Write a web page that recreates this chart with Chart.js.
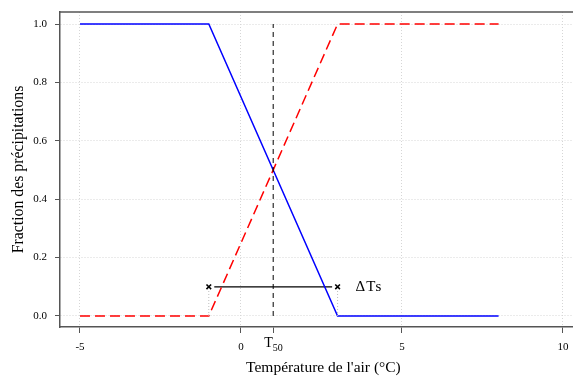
<!DOCTYPE html>
<html>
<head>
<meta charset="utf-8">
<script src="https://cdn.jsdelivr.net/npm/chart.js@4/dist/chart.umd.min.js"></script>
<style>
  html, body { margin: 0; padding: 0; background: #ffffff; }
  canvas { display: block; }
</style>
</head>
<body>
<canvas id="c" width="573" height="378"></canvas>
<script>
// ---- data ----
const xTickValues = [-5, 0, 1, 5, 10];
const yTickValues = [0, 0.2, 0.4, 0.6, 0.8, 1.0];
const tempX = [-5, -1, 3, 8];
const snowFrac = [1, 1, 0, 0];   // blue solid
const rainFrac = [0, 0, 1, 1];   // red dashed
const t50 = 1;
const tLow = -1;
const tHigh = 3;
const deltaLevel = 0.1;
const deltaBarX = [-0.83, 2.83];
const deltaLabel = 'ΔTs';
const deltaLabelX = 3.56;
const xTitle = "Température de l'air (°C)";
const yTitle = 'Fraction des précipitations';
const xTitleCenterValue = 2.56;

const SERIF = "'Liberation Serif', 'DejaVu Serif', serif";
const AXIS = '#555555';
const GRID = '#d6d6d6';

const toPts = (xs, ys) => xs.map((x, i) => ({ x: x, y: ys[i] }));

const annotPlugin = {
  id: 'annot',
  afterDraw(chart) {
    const { ctx, chartArea, scales } = chart;
    const xs = scales.x, ys = scales.y;
    ctx.save();
    // top frame line
    ctx.strokeStyle = AXIS;
    ctx.lineWidth = 1.5;
    ctx.beginPath();
    ctx.moveTo(chartArea.left - 0.75, chartArea.top);
    ctx.lineTo(chartArea.right, chartArea.top);
    ctx.stroke();
    // delta label
    ctx.fillStyle = '#000000';
    ctx.font = '15px ' + SERIF;
    ctx.textAlign = 'left';
    ctx.textBaseline = 'middle';
    try { ctx.letterSpacing = '1px'; } catch (e) {}
    ctx.fillText(deltaLabel, xs.getPixelForValue(deltaLabelX), ys.getPixelForValue(deltaLevel));
    try { ctx.letterSpacing = '0px'; } catch (e) {}
    // T50 label under axis
    const px = xs.getPixelForValue(t50);
    ctx.textBaseline = 'alphabetic';
    ctx.font = '14px ' + SERIF;
    ctx.fillText('T', px - 9, 347);
    ctx.font = '10px ' + SERIF;
    ctx.fillText('50', px - 0.5, 351);
    // x axis title (centred on the full plot region)
    ctx.font = '15.5px ' + SERIF;
    ctx.textAlign = 'center';
    ctx.textBaseline = 'middle';
    ctx.fillText(xTitle, xs.getPixelForValue(xTitleCenterValue), 368);
    ctx.restore();
  }
};

new Chart(document.getElementById('c'), {
  type: 'scatter',
  data: {
    datasets: [
      {
        data: [{ x: tLow, y: 0 }, { x: tLow, y: deltaLevel }],
        showLine: true, borderColor: '#bdbdbd', borderWidth: 1, borderDash: [1, 2],
        pointRadius: 0
      },
      {
        data: [{ x: tHigh, y: 0 }, { x: tHigh, y: deltaLevel }],
        showLine: true, borderColor: '#bdbdbd', borderWidth: 1, borderDash: [1, 2],
        pointRadius: 0
      },
      {
        data: [{ x: t50, y: 0 }, { x: t50, y: 1 }],
        showLine: true, borderColor: '#000000', borderWidth: 1, borderDash: [5, 4],
        pointRadius: 0
      },
      {
        data: toPts(tempX, rainFrac),
        showLine: true, borderColor: '#ff0000', borderWidth: 1.5, borderDash: [10, 5],
        pointRadius: 0
      },
      {
        data: toPts(tempX, snowFrac),
        showLine: true, borderColor: '#0000ff', borderWidth: 1.5,
        pointRadius: 0
      },
      {
        data: toPts(deltaBarX, [deltaLevel, deltaLevel]),
        showLine: true, borderColor: '#000000', borderWidth: 1.3,
        pointRadius: 0
      },
      {
        data: [{ x: tLow, y: deltaLevel }, { x: tHigh, y: deltaLevel }],
        showLine: false, pointStyle: 'crossRot', pointRadius: 3.3,
        borderColor: '#000000', backgroundColor: '#000000', pointBorderWidth: 1.6
      }
    ]
  },
  options: {
    responsive: false,
    animation: false,
    devicePixelRatio: 1,
    font: { family: SERIF },
    layout: { autoPadding: false, padding: { top: 12, right: 0, bottom: 0, left: 0 } },
    plugins: { legend: { display: false }, tooltip: { enabled: false } },
    scales: {
      x: {
        type: 'linear',
        min: -5.621, max: 10.311,
        afterBuildTicks(scale) { scale.ticks = xTickValues.map(v => ({ value: v })); },
        afterFit(scale) {
          scale.height = 51;
          scale.paddingLeft = 0; scale.paddingRight = 0;
          scale.paddingTop = 0; scale.paddingBottom = 0;
        },
        ticks: {
          padding: 8,
          color: '#000000',
          font: { family: SERIF, size: 11 },
          callback: (v) => (v === t50 ? '' : String(v))
        },
        grid: {
          color: (c) => (c.tick && c.tick.value === t50 ? 'rgba(0,0,0,0)' : GRID),
          lineWidth: 1,
          tickLength: 6,
          tickColor: AXIS,
          tickWidth: 1
        },
        border: { display: true, color: AXIS, width: 1.5, dash: [1, 2] },
        title: { display: false }
      },
      y: {
        type: 'linear',
        min: -0.0377, max: 1.0411,
        afterBuildTicks(scale) { scale.ticks = yTickValues.map(v => ({ value: v })); },
        afterFit(scale) {
          scale.width = 60;
          scale.paddingLeft = 0; scale.paddingRight = 0;
          scale.paddingTop = 0; scale.paddingBottom = 0;
        },
        ticks: {
          padding: 8,
          color: '#000000',
          font: { family: SERIF, size: 11 },
          callback: (v) => Number(v).toFixed(1)
        },
        grid: {
          color: GRID,
          lineWidth: 1,
          tickLength: 5,
          tickColor: AXIS,
          tickWidth: 1
        },
        border: { display: true, color: AXIS, width: 1.5, dash: [1, 2] },
        title: {
          display: true, text: yTitle, color: '#000000',
          font: { family: SERIF, size: 15.8 },
          padding: { top: 9, bottom: 0 }
        }
      }
    }
  },
  plugins: [annotPlugin]
});
</script>
</body>
</html>
